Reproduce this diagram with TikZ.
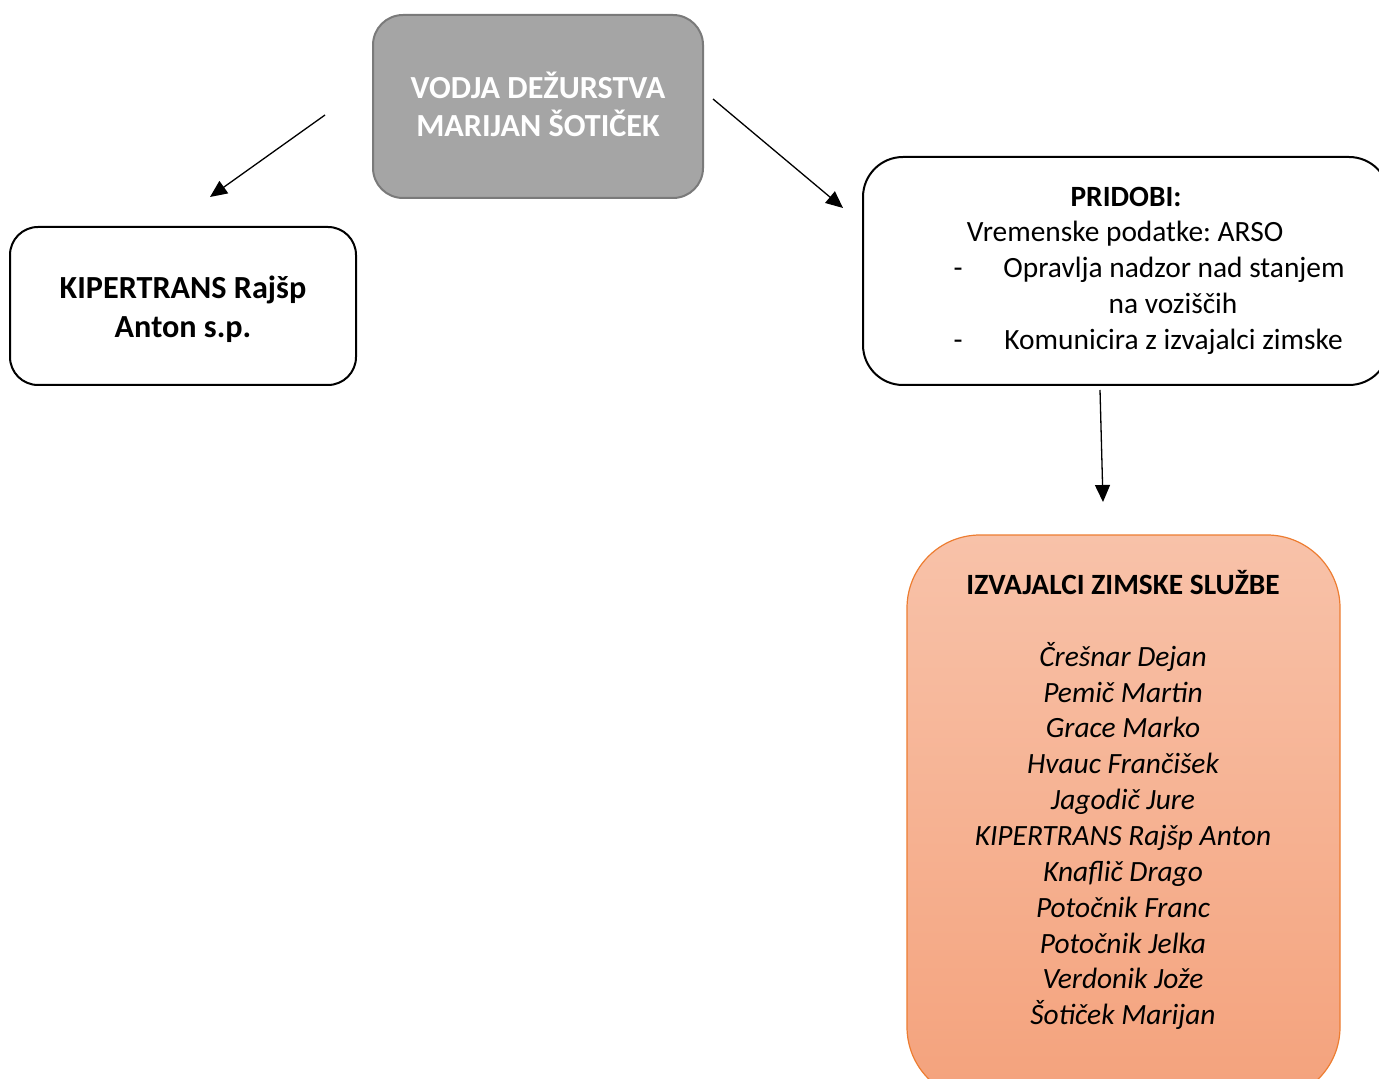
\documentclass[tikz,border=0pt]{standalone}
\usepackage{fontspec}
\setmainfont{Carlito}
\usetikzlibrary{arrows.meta}
\frenchspacing
\definecolor{boxgray}{HTML}{A5A5A5}
\definecolor{boxgrayline}{HTML}{7A7A7A}
\definecolor{orline}{HTML}{ED7D31}
\definecolor{ortop}{HTML}{F8C2A9}
\definecolor{orbot}{HTML}{F4A27C}
\tikzset{
  txt/.style={inner sep=0pt, font=\fontsize{14.7}{18}\selectfont},
  btxt/.style={inner sep=0pt, font=\fontsize{14.7}{18}\selectfont\bfseries},
  bigbtxt/.style={inner sep=0pt, font=\fontsize{16.1}{19}\selectfont\bfseries},
  itxt/.style={inner sep=0pt, font=\fontsize{14.7}{18}\selectfont\itshape, anchor=base},
  conn/.style={line width=0.65pt, -{Triangle[length=8.5pt,width=7.5pt]}},
}
\begin{document}
\begin{tikzpicture}[x=0.5pt,y=-0.5pt]
\useasboundingbox (0,0) rectangle (1379,1079);
\clip (0,0) rectangle (1379,1079);
% boxes
\node[draw=boxgrayline, fill=boxgray, line width=1pt, rounded corners=15pt,
      minimum width=165pt, minimum height=91.5pt, inner sep=0pt] (head) at (538,106.5) {};
\node[draw=black, line width=1pt, rounded corners=14pt,
      minimum width=173pt, minimum height=79pt, inner sep=0pt] (kip) at (183,306) {};
\node[draw=black, line width=1pt, rounded corners=20pt,
      minimum width=263pt, minimum height=114pt, inner sep=0pt] (prid) at (1126,271) {};
\node[draw=orline, line width=0.6pt, rounded corners=36.5pt, top color=ortop, bottom color=orbot,
      minimum width=216.5pt, minimum height=282.5pt, inner sep=0pt] (izv) at (1123.5,817.5) {};
% head text
\node[bigbtxt, text=white, anchor=base] (h1) at (538,99) {VODJA DEŽURSTVA};
\node[bigbtxt, text=white, anchor=base] (h2) at (538,137) {MARIJAN ŠOTIČEK};
% left box text
\node[bigbtxt, anchor=base] (k1) at (183,299) {KIPERTRANS Rajšp};
\node[bigbtxt, anchor=base] (k2) at (183,338) {Anton s.p.};
% right box text
\node[btxt, anchor=base] (p1) at (1126,207) {PRIDOBI:};
\node[txt, anchor=base] (p2) at (1125,242) {Vremenske podatke: ARSO};
\node[txt, anchor=base] (d1) at (958,278) {-};
\node[txt, anchor=base west] (p3) at (1003,278) {Opravlja nadzor nad stanjem};
\node[txt, anchor=base] (p4) at (1173,314) {na voziščih};
\node[txt, anchor=base] (d2) at (958,350) {-};
\node[txt, anchor=base west] (p5) at (1004,350) {Komunicira z izvajalci zimske};
% orange box text
\node[btxt, anchor=base] (t0) at (1123,594) {IZVAJALCI ZIMSKE SLUŽBE};
\node[itxt] (n1) at (1123,666) {Črešnar Dejan};
\node[itxt] (n2) at (1123,702) {Pemič Martin};
\node[itxt] (n3) at (1123,737) {Grace Marko};
\node[itxt] (n4) at (1123,773) {Hvauc Frančišek};
\node[itxt] (n5) at (1123,809) {Jagodič Jure};
\node[itxt] (n6) at (1123,845) {KIPERTRANS Rajšp Anton};
\node[itxt] (n7) at (1123,881) {Knaflič Drago};
\node[itxt] (n8) at (1123,917) {Potočnik Franc};
\node[itxt] (n9) at (1123,953) {Potočnik Jelka};
\node[itxt] (n10) at (1123,988) {Verdonik Jože};
\node[itxt] (n11) at (1123,1024) {Šotiček Marijan};
% connectors
\coordinate (aLs) at (325,115);
\coordinate (aLe) at (210,197);
\coordinate (aRs) at (713,99);
\coordinate (aRe) at (843,208);
\coordinate (aDs) at (1100,390);
\coordinate (aDe) at (1103,502);
\draw[conn] (aLs) -- (aLe);
\draw[conn] (aRs) -- (aRe);
\draw[conn] (aDs) -- (aDe);
\end{tikzpicture}
\end{document}
